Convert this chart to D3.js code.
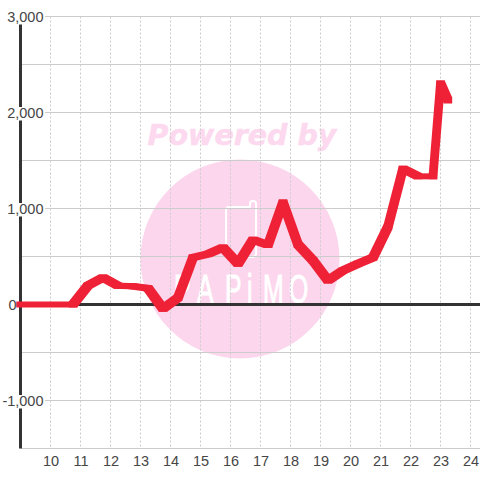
<!DOCTYPE html>
<html><head><meta charset="utf-8">
<script src="https://cdn.jsdelivr.net/npm/d3@7/dist/d3.min.js"></script>
<style>html,body{margin:0;padding:0;background:#fff}svg{display:block}</style>
</head><body><div id="c"></div>
<script>
const hours=[9,10.75,11.25,11.75,12.25,12.75,13.25,13.75,14.25,14.75,15.25,15.75,16.25,16.75,17.25,17.75,18.25,18.75,19.25,19.75,20.25,20.75,21.25,21.75,22.25,22.75,23,23.25];
const values=[0,0,198,280,195,190,170,-45,70,490,525,595,425,675,620,1062,625,458,250,355,425,490,810,1415,1335,1335,2302,2125];
const xTicks=[10,11,12,13,14,15,16,17,18,19,20,21,22,23,24];
const yLabelled=[3000,2000,1000,0,-1000];
const yGrid=[3000,2500,2000,1500,1000,500,0,-500,-1000,-1500];
const logoText="PAPiMO";
const logoLeft=[174,197,225,247,263,289];

const W=480,H=480;
const svg=d3.select("#c").append("svg").attr("width",W).attr("height",H);
svg.append("rect").attr("width",W).attr("height",H).attr("fill","#fff");
const x=d3.scaleLinear().domain([9,25]).range([20.5,500.5]);
const y=d3.scaleLinear().domain([-1500,3000]).range([448.5,16.5]);
const font="'Liberation Sans',Arial,sans-serif";

// watermark
const wm=svg.append("g");
wm.append("circle").attr("cx",240).attr("cy",259).attr("r",99.5).attr("fill","#fcd6ed");
wm.append("text").attr("x",242).attr("y",145).attr("text-anchor","middle")
  .attr("font-family","'DejaVu Sans'").attr("font-weight","bold").attr("font-style","italic")
  .attr("font-size",28.5).attr("fill","#fcd9ee").attr("stroke","#fcd9ee").attr("stroke-width",.5).text("Powered by");
wm.append("path").attr("d","M229 207 H250 V203 Q250 201 253 201 Q256 201 256 204 V253 Q256 257 252 257 H232 Q226 257 226 252 V211 Q226 207 229 207Z")
  .attr("fill","none").attr("stroke","#fff").attr("stroke-width",2);
wm.append("text").attr("transform","scale(.62,1)")
  .attr("x",logoLeft.map(v=>v/.62).join(" ")).attr("y",303)
  .attr("font-family",font).attr("font-size",40).attr("fill","#fff").attr("stroke","#fff").attr("stroke-width",1).text(logoText);

// vertical grid
svg.append("g").selectAll("line").data(xTicks).join("line")
  .attr("x1",d=>x(d)).attr("x2",d=>x(d)).attr("y1",y(3000)).attr("y2",y(-1500))
  .attr("stroke","#ccc").attr("stroke-dasharray","2,2");
// horizontal grid
svg.append("g").selectAll("line").data(yGrid).join("line")
  .attr("x1",x(9)).attr("x2",W).attr("y1",d=>y(d)).attr("y2",d=>y(d))
  .attr("stroke","#ccc");
// axis lines
svg.append("line").attr("x1",x(9)).attr("x2",x(9)).attr("y1",y(3000)).attr("y2",y(-1500)).attr("stroke","#333").attr("stroke-width",3);
svg.append("line").attr("x1",x(9)).attr("x2",W).attr("y1",y(0)).attr("y2",y(0)).attr("stroke","#333").attr("stroke-width",3);

// y labels with background
const yl=svg.append("g").selectAll("g").data(yLabelled).join("g");
yl.filter(d=>d!==0).append("rect").attr("x",0).attr("width",45).attr("y",d=>y(d)-5.5).attr("height",13.5).attr("fill","#fff");

// data line: swept rectangular pen, one hull per segment
const penW=4.2, penH=3;
const pts=values.map((v,i)=>[x(hours[i]),y(v)]);
const corners=([px,py])=>[[px-penW,py-penH],[px+penW,py-penH],[px+penW,py+penH],[px-penW,py+penH]];
const hulls=d3.pairs(pts).map(([a,b])=>d3.polygonHull([...corners(a),...corners(b)]));
svg.append("g").selectAll("path").data(hulls).join("path")
  .attr("d",d=>"M"+d.join("L")+"Z").attr("fill","#ee2136");

const labels=svg.append("g").attr("opacity",.99);
labels.selectAll("text.yl").data(yLabelled).join("text").attr("class","yl")
  .attr("x",d=>d===0?16.5:43.5).attr("y",d=>y(d)+5).attr("text-anchor","end")
  .attr("font-family",font).attr("font-size",14.5).attr("fill","#444").text(d=>d3.format(",")(d).replace("\u2212","-"));
labels.selectAll("text.xl").data(xTicks).join("text").attr("class","xl")
  .attr("x",d=>x(d)+.5).attr("y",466).attr("text-anchor","middle")
  .attr("font-family",font).attr("font-size",14.5).attr("fill","#444").text(d=>d);
</script></body></html>
